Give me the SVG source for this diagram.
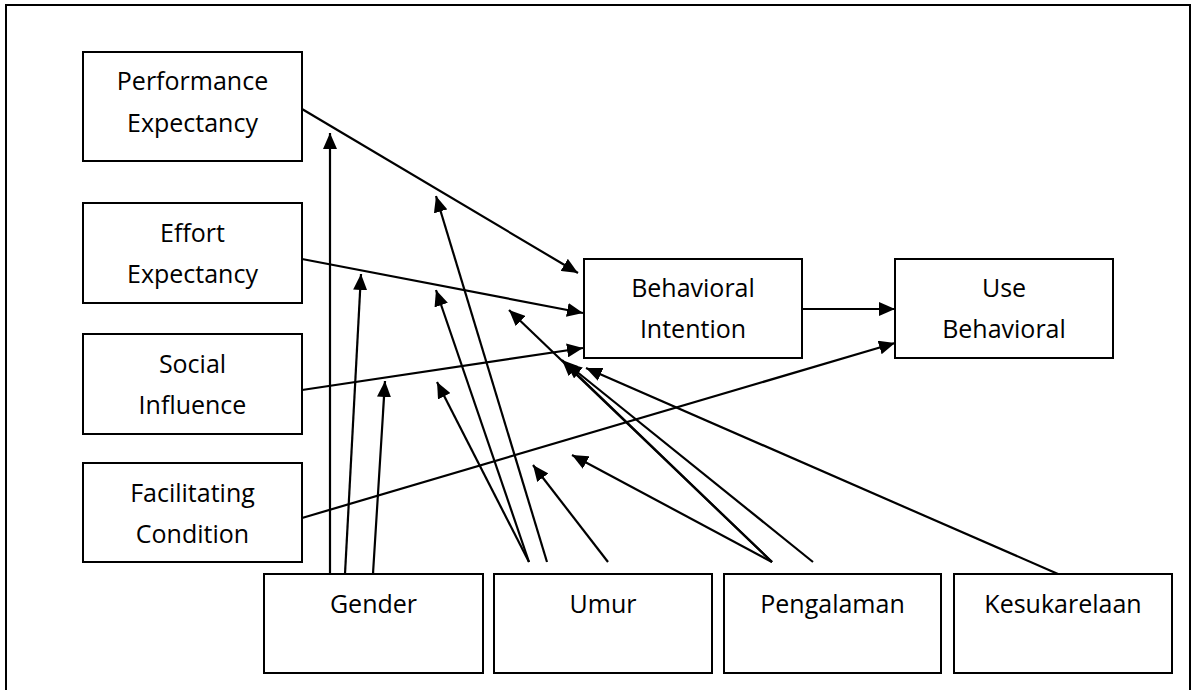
<svg xmlns="http://www.w3.org/2000/svg" width="1195" height="690" viewBox="0 0 1195 690">
<defs>
<style>
.box{fill:#fff;stroke:#000;stroke-width:2}
.lbl{font-family:"Open Sans","Noto Sans","Liberation Sans",sans-serif;font-size:25px;fill:#000;text-anchor:middle}
.c{stroke:#000;stroke-width:2.2;fill:none;marker-end:url(#ah)}
</style>
<marker id="ah" markerUnits="userSpaceOnUse" markerWidth="16" markerHeight="14" refX="16" refY="7" orient="auto">
<path d="M0,0 L16,7 L0,14 z" fill="#000"/>
</marker>
</defs>
<rect x="0" y="0" width="1195" height="690" fill="#fff"/>
<rect id="frame" x="6" y="5" width="1184" height="700" fill="none" stroke="#000" stroke-width="2"/>
<g id="pe"><rect class="box" x="83" y="52" width="219" height="109"/><text class="lbl" x="192.5" y="90">Performance</text><text class="lbl" x="192.5" y="132">Expectancy</text></g>
<g id="ee"><rect class="box" x="83" y="203" width="219" height="100"/><text class="lbl" x="192.5" y="242">Effort</text><text class="lbl" x="192.5" y="283">Expectancy</text></g>
<g id="si"><rect class="box" x="83" y="334" width="219" height="100"/><text class="lbl" x="192.5" y="373">Social</text><text class="lbl" x="192.5" y="414">Influence</text></g>
<g id="fc"><rect class="box" x="83" y="463" width="219" height="99"/><text class="lbl" x="192.5" y="502">Facilitating</text><text class="lbl" x="192.5" y="543">Condition</text></g>
<g id="bi"><rect class="box" x="584" y="259" width="218" height="99"/><text class="lbl" x="693" y="297">Behavioral</text><text class="lbl" x="693" y="338">Intention</text></g>
<g id="ub"><rect class="box" x="895" y="259" width="218" height="99"/><text class="lbl" x="1004" y="297">Use</text><text class="lbl" x="1004" y="338">Behavioral</text></g>
<g id="gender"><rect class="box" x="264" y="574" width="219" height="99"/><text class="lbl" x="373.5" y="613">Gender</text></g>
<g id="umur"><rect class="box" x="494" y="574" width="218" height="99"/><text class="lbl" x="603" y="613">Umur</text></g>
<g id="pengalaman"><rect class="box" x="724" y="574" width="217" height="99"/><text class="lbl" x="832.5" y="613">Pengalaman</text></g>
<g id="kesukarelaan"><rect class="box" x="954" y="574" width="218" height="99"/><text class="lbl" x="1063" y="613">Kesukarelaan</text></g>
<g id="connectors">
<line class="c" x1="302" y1="109" x2="578" y2="273"/>
<line class="c" x1="302" y1="259" x2="583" y2="313"/>
<line class="c" x1="302" y1="390" x2="583" y2="348"/>
<line class="c" x1="302" y1="518" x2="895" y2="343"/>
<line class="c" x1="802" y1="309" x2="895" y2="309"/>
<line class="c" x1="330" y1="574" x2="330" y2="133"/>
<line class="c" x1="345" y1="574" x2="361" y2="274"/>
<line class="c" x1="373" y1="574" x2="385" y2="381"/>
<line class="c" x1="547" y1="562" x2="436" y2="196"/>
<line class="c" x1="529" y1="562" x2="436" y2="290"/>
<line class="c" x1="529" y1="562" x2="437" y2="382"/>
<line class="c" x1="608" y1="562" x2="533" y2="465"/>
<line class="c" x1="772" y1="562" x2="572" y2="455"/>
<line class="c" x1="772" y1="562" x2="509" y2="310"/>
<line class="c" x1="772" y1="562" x2="562" y2="360"/>
<line class="c" x1="813" y1="562" x2="566" y2="363"/>
<line class="c" x1="1058" y1="574" x2="586" y2="368"/>
</g>
</svg>
